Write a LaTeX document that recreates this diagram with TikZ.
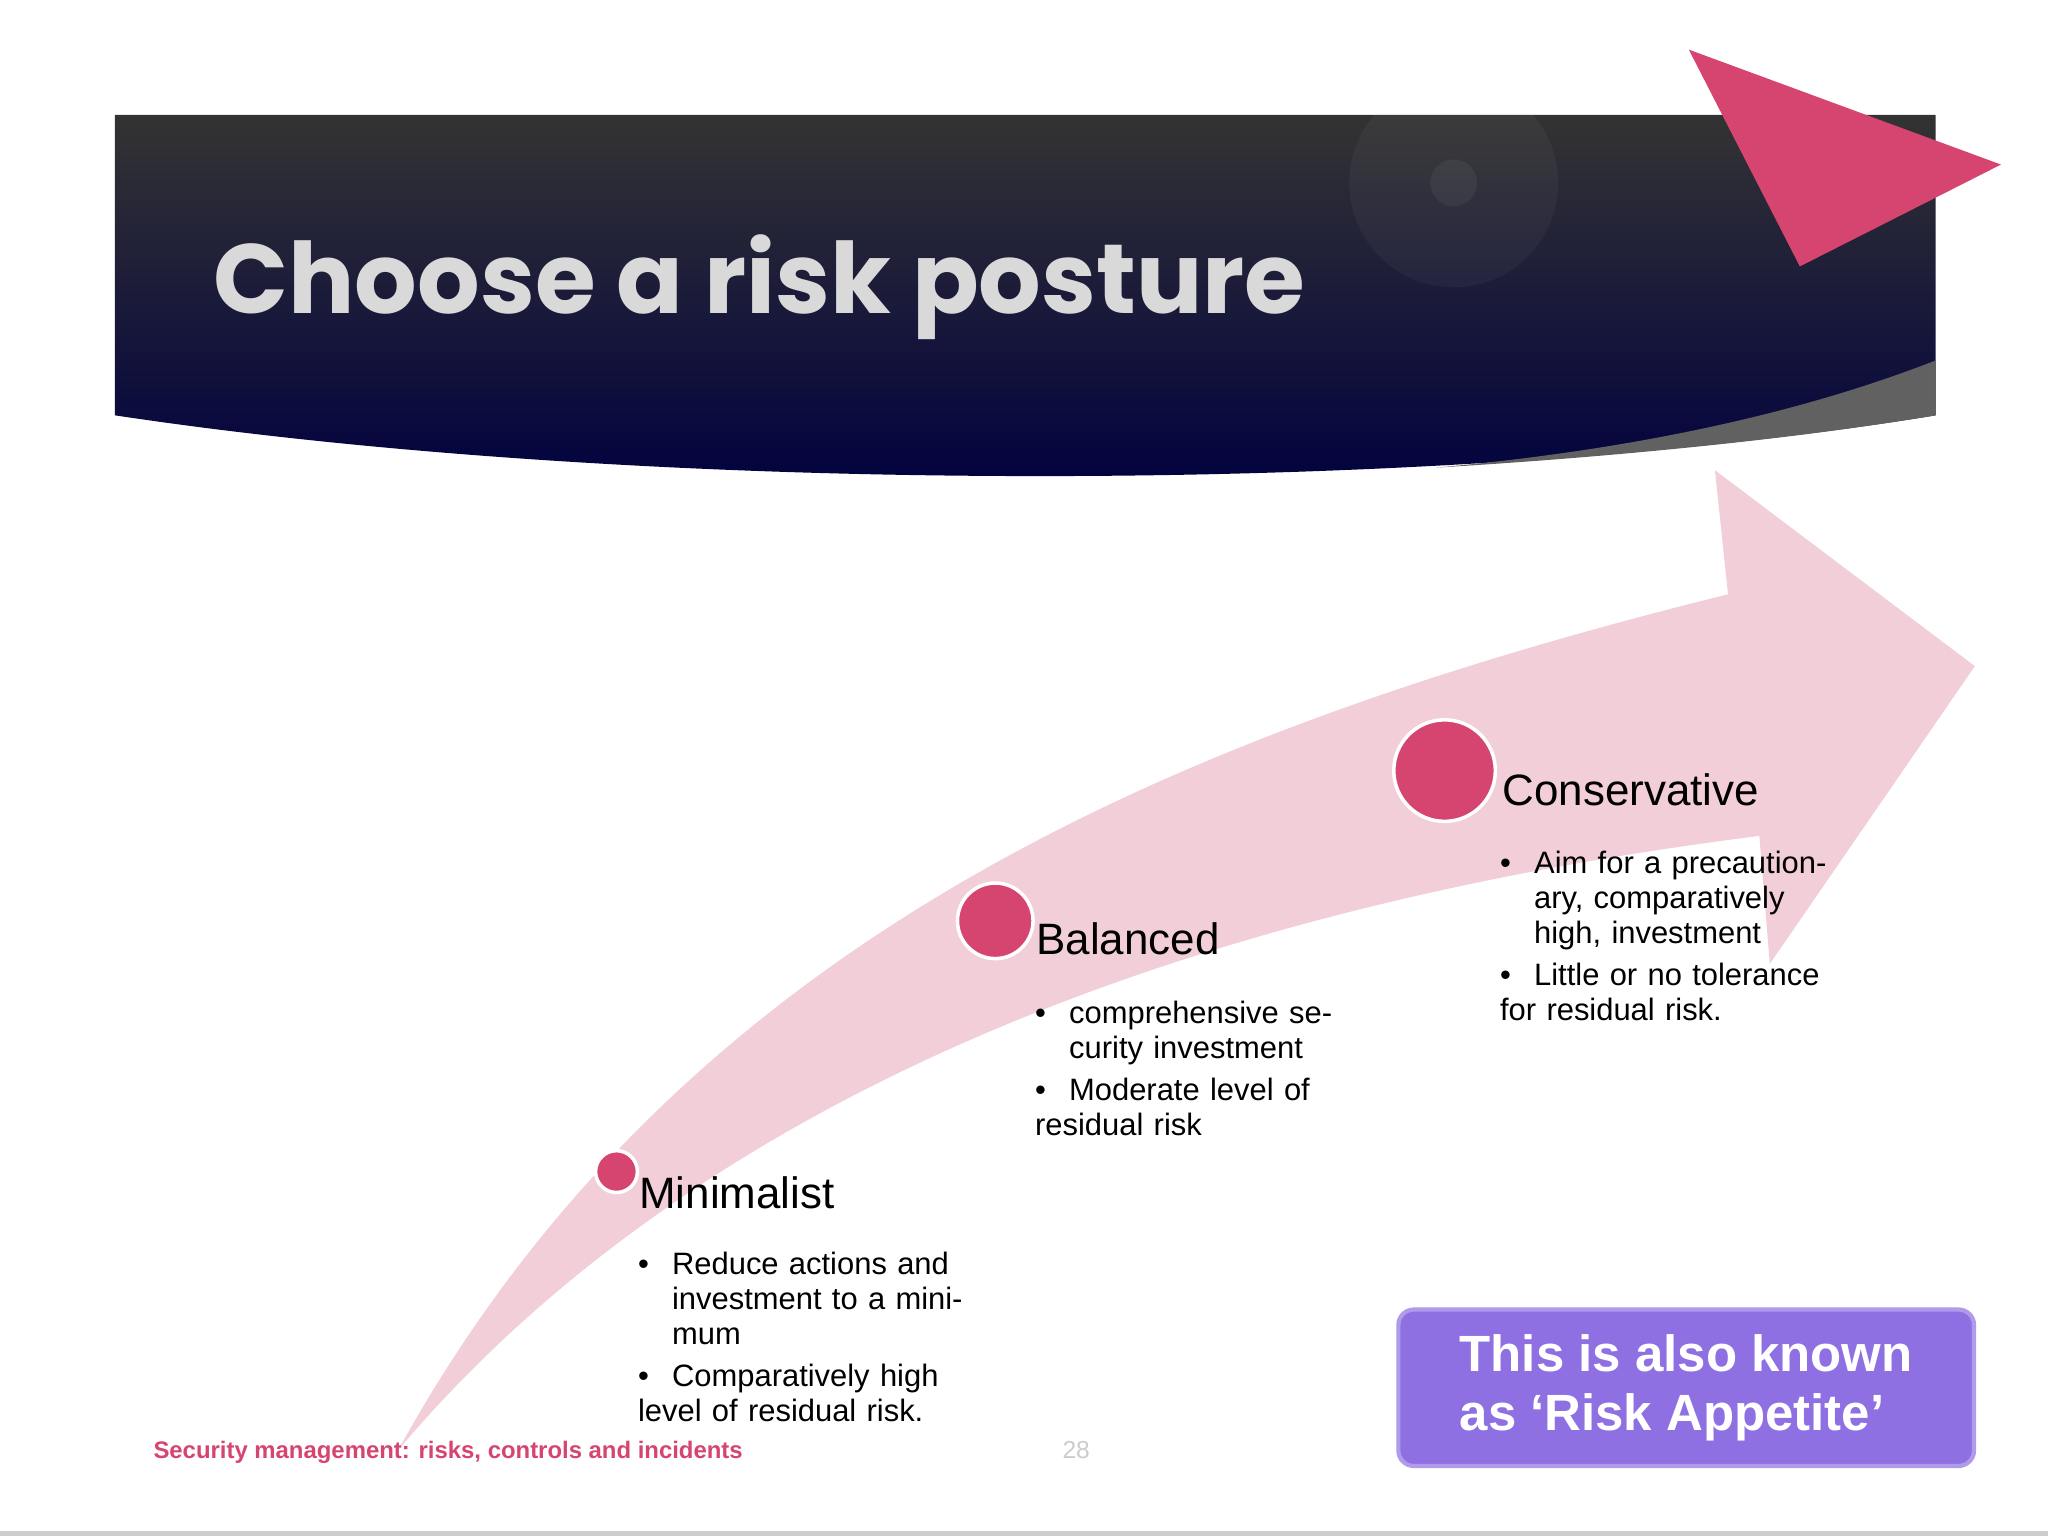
\documentclass[tikz,border=0pt]{standalone}
\usepackage{fontspec}
\setmainfont{Liberation Sans}
\newfontfamily\titlefont{Poppins}
\definecolor{rpink}{HTML}{D6456F}
\definecolor{lpink}{HTML}{F2CFD8}
\definecolor{purp}{HTML}{8E70E2}
\newcommand{\bul}[1]{\par\noindent\hangindent=1.1em\hangafter=1\makebox[1.1em][l]{•}#1}
\begin{document}
\begin{tikzpicture}[x=0.013061cm,y=-0.013061cm,
  dot/.style={circle,fill=rpink,draw=white,line width=1pt,inner sep=0pt},
  head/.style={anchor=north west,font=\fontsize{12.5}{14}\selectfont,inner sep=0pt},
  body/.style={anchor=north west,font=\fontsize{8.8}{10}\selectfont,inner sep=0pt,align=left}]
\useasboundingbox (0,0) rectangle (1568,1176);
\fill[white] (0,0) rectangle (1568,1176);
\fill[gray!40] (0,1172) rectangle (1568,1176);
% banner
\shade[top color=black!80,bottom color=black!72!blue!90!black] (88,88) -- (1482,88) -- (1482,318) .. controls (1100,380) and (500,380) .. (88,318) -- cycle;
\fill[black!62] (1100,358) .. controls (1300,340) and (1420,300) .. (1482,276) -- (1482,318) .. controls (1350,340) and (1200,352) .. (1100,358) -- cycle;
\fill[white,opacity=0.04] (1113,140) circle (80);
\fill[white,opacity=0.05] (1113,140) circle (18);
\node[anchor=west,text=black!15,font=\titlefont\bfseries\fontsize{28}{31}\selectfont,inner sep=0pt] (title) at (163,220) {Choose a risk posture};
\fill[rpink] (1293,38) -- (1532,126) -- (1378,204) -- cycle;
% big arrow
\fill[lpink] (305,1110) .. controls (520,720) and (900,560) .. (1323,455) -- (1313,360) -- (1512,510) -- (1355,738) -- (1347,640) .. controls (950,690) and (550,820) .. (305,1110) -- cycle;
\node[dot,minimum size=11.9pt] (m) at (472,897) {};
\node[dot,minimum size=21.5pt] (b) at (762,705) {};
\node[dot,minimum size=28.9pt] (c) at (1106,590) {};
\node[head] (mh) at (489,900) {Minimalist};
\node[body,text width=97pt] (mb) at (488,948) {\bul{Reduce actions and investment to a minimum}\par\vspace{2pt}\bul{Comparatively high level of residual risk.}};
\node[head] (bh) at (793,706) {Balanced};
\node[body,text width=93pt] (bb) at (792,756) {\bul{comprehensive security investment}\par\vspace{2pt}\bul{Moderate level of residual risk}};
\node[head] (ch) at (1150,592) {Conservative};
\node[body,text width=95pt] (cb) at (1148,641) {\bul{Aim for a precautionary, comparatively high, investment}\par\vspace{2pt}\bul{Little or no tolerance for residual risk.}};
% footer
\node[anchor=west,text=rpink,font=\bfseries\fontsize{6.8}{8}\selectfont,inner sep=0pt] (foot) at (117,1112) {Security management: risks, controls and incidents};
\node[text=black!20,font=\fontsize{7}{8}\selectfont,inner sep=0pt] (pg) at (824,1110) {28};
\node[draw=purp!70!white,line width=1.2pt,fill=purp,rounded corners=4.4pt,minimum width=163.8pt,minimum height=44.5pt,inner sep=0pt,anchor=north west] (box) at (1069,1001) {};
\node[text=white,font=\bfseries\fontsize{14.5}{17}\selectfont,align=left,inner sep=0pt] (bt) at (box.center) {This is also known\\as ‘Risk Appetite’};
\end{tikzpicture}
\end{document}
